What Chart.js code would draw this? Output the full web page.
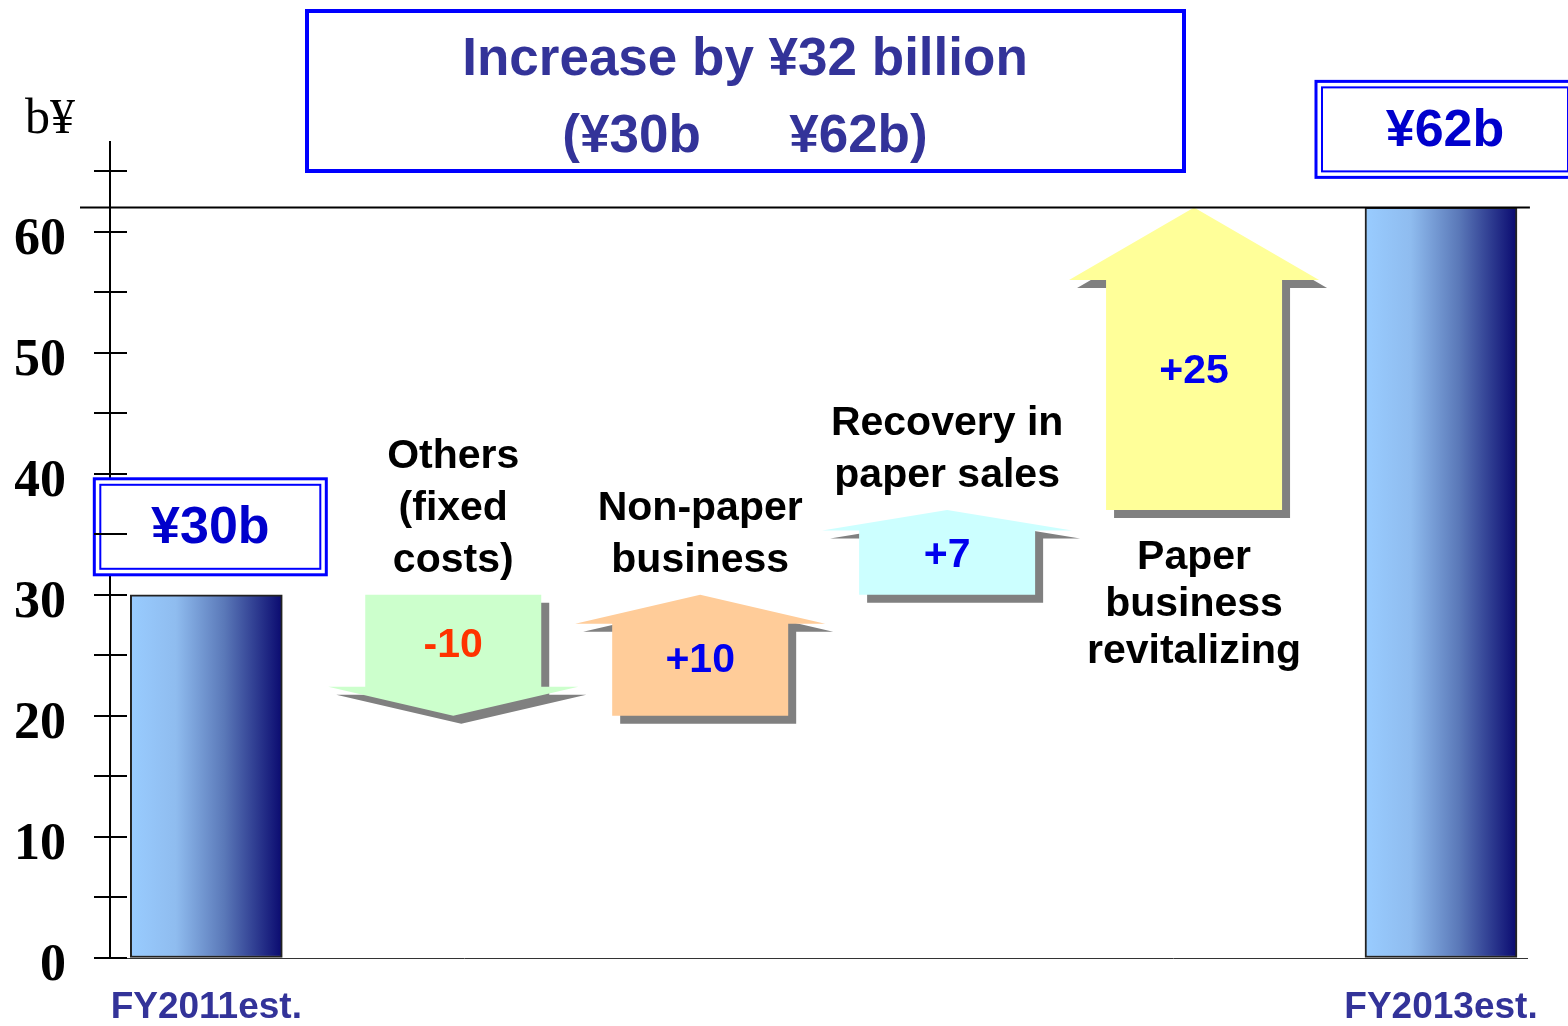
<!DOCTYPE html>
<html>
<head>
<meta charset="utf-8">
<script src="https://cdn.jsdelivr.net/npm/chart.js@4"></script>
<style>
  html, body { margin: 0; padding: 0; background: #fff; }
</style>
</head>
<body>
<canvas id="chart" width="1568" height="1026"></canvas>
<script>
// profit bridge FY2011est. -> FY2013est. (billion yen)

const categories = ['FY2011est.', 'Others (fixed costs)', 'Non-paper business',
    'Recovery in paper sales', 'Paper business revitalizing', 'FY2013est.'];
const startTotal = 30;
const endTotal = 62;
const changes = [-10, 10, 7, 25];
const changeLines = [
    ['Others', '(fixed', 'costs)'],
    ['Non-paper', 'business'],
    ['Recovery in', 'paper sales'],
    ['Paper', 'business', 'revitalizing']
];
const yTicks = [0, 5, 10, 15, 20, 25, 30, 35, 40, 45, 50, 55, 60, 65];

// colours
const ARROW_FILLS = ['#ccffcc', '#ffcc99', '#ccffff', '#ffff99'];
const SHADOW = '#808080';
const NAVY_TEXT = '#333399';
const BOX_BLUE = '#0000ff';
const SANS = '"Liberation Sans", Arial, sans-serif';
const SERIF = '"Liberation Serif", "Times New Roman", serif';

// running total gives the floating range of each step
const steps = [];
let running = startTotal;
for (let i = 0; i < changes.length; i++) {
    steps.push({ x: i + 1, y: [running, running + changes[i]] });
    running += changes[i];
}

function barGradient(context) {
    const chart = context.chart;
    if (!chart.chartArea || context.type !== 'data') return '#7fa8e0';
    const xPix = chart.scales.x.getPixelForValue(context.raw.x);
    const g = chart.ctx.createLinearGradient(xPix - 76, 0, xPix + 76, 0);
    g.addColorStop(0, '#99ccff');
    g.addColorStop(0.3, '#8fbcef');
    g.addColorStop(0.62, '#5a78b8');
    g.addColorStop(1, '#0a0a70');
    return g;
}

function fillPoly(c, pts, dx, dy) {
    c.beginPath();
    c.moveTo(pts[0][0] + dx, pts[0][1] + dy);
    for (let k = 1; k < pts.length; k++) c.lineTo(pts[k][0] + dx, pts[k][1] + dy);
    c.closePath();
    c.fill();
}

// draws the step arrows on top of the (invisible) floating bars
const arrowPlugin = {
    id: 'arrows',
    afterDatasetsDraw(chart) {
        const c = chart.ctx;
        const meta = chart.getDatasetMeta(1);
        meta.data.forEach(function(bar, i) {
            const cx = bar.x;
            const half = bar.width / 2;
            const top = Math.min(bar.y, bar.base);
            const bottom = Math.max(bar.y, bar.base);
            const head = (bottom - top) * 0.24;
            const ext = 37;
            const up = changes[i] > 0;
            let pts, textY;
            if (up) {
                const hb = top + head;
                pts = [[cx - half, bottom], [cx - half, hb], [cx - half - ext, hb], [cx, top],
                       [cx + half + ext, hb], [cx + half, hb], [cx + half, bottom]];
                textY = hb + (bottom - hb) * 0.4;
            } else {
                const hb = bottom - head;
                pts = [[cx - half, top], [cx + half, top], [cx + half, hb], [cx + half + ext, hb],
                       [cx, bottom], [cx - half - ext, hb], [cx - half, hb]];
                textY = top + (hb - top) * 0.55;
            }
            c.save();
            c.fillStyle = SHADOW;
            fillPoly(c, pts, 8, 8);
            c.fillStyle = ARROW_FILLS[i];
            fillPoly(c, pts, 0, 0);

            // the change value inside the arrow
            c.font = 'bold 41px ' + SANS;
            c.textAlign = 'center';
            c.textBaseline = 'middle';
            c.fillStyle = up ? '#0000ee' : '#ff3300';
            c.fillText((up ? '+' : '') + changes[i], cx, textY);

            // the description near the arrow
            c.fillStyle = '#000';
            const lines = changeLines[i];
            if (i === changes.length - 1) {
                for (let k = 0; k < lines.length; k++) {
                    c.fillText(lines[k], cx, bottom + 48 + k * 47);
                }
            } else {
                for (let k = 0; k < lines.length; k++) {
                    const fromEnd = lines.length - 1 - k;
                    c.fillText(lines[k], cx, top - 34 - fromEnd * 52);
                }
            }
            c.restore();
        });
    }
};

// title box, value boxes, 62 line and unit label
const notesPlugin = {
    id: 'notes',
    afterDraw(chart) {
        const c = chart.ctx;
        const area = chart.chartArea;
        const yScale = chart.scales.y;
        c.save();

        // line at the FY2013 level
        const yEnd = yScale.getPixelForValue(endTotal);
        c.strokeStyle = '#000';
        c.lineWidth = 2;
        c.beginPath();
        c.moveTo(area.left - 30, yEnd);
        c.lineTo(area.right + 2, yEnd);
        c.stroke();

        // unit label
        c.fillStyle = '#000';
        c.font = '50px ' + SERIF;
        c.textAlign = 'left';
        c.textBaseline = 'alphabetic';
        c.fillText('b\u00a5', 25, 133);

        // title box
        c.strokeStyle = BOX_BLUE;
        c.lineWidth = 4;
        c.strokeRect(307, 11, 877, 160);
        c.fillStyle = NAVY_TEXT;
        c.font = 'bold 53px ' + SANS;
        c.textAlign = 'center';
        c.textBaseline = 'middle';
        c.fillText('Increase by \u00a532 billion', 745, 60);
        c.fillText('(\u00a5' + startTotal + 'b      \u00a5' + endTotal + 'b)', 745, 137);

        // value boxes above the two totals
        const totals = [startTotal, endTotal];
        const widths = [232, 258];
        const gaps = [20, 30];
        const meta = chart.getDatasetMeta(0);
        meta.data.forEach(function(bar, i) {
            const w = widths[i];
            const h = 96;
            const x0 = bar.x - w / 2 + 4;
            const y0 = bar.y - gaps[i] - h;
            c.fillStyle = '#fff';
            c.fillRect(x0, y0, w, h);
            c.strokeStyle = BOX_BLUE;
            c.lineWidth = 3;
            c.strokeRect(x0, y0, w, h);
            c.lineWidth = 2;
            c.strokeRect(x0 + 6, y0 + 6, w - 12, h - 12);
            c.fillStyle = '#0000cc';
            c.font = 'bold 52px ' + SANS;
            c.fillText('\u00a5' + totals[i] + 'b', x0 + w / 2, y0 + h / 2 + 2);
        });

        // tick marks crossing the y axis
        c.strokeStyle = '#000';
        c.lineWidth = 2;
        yTicks.forEach(function(v) {
            const py = Math.round(yScale.getPixelForValue(v));
            c.beginPath();
            c.moveTo(area.left - 16, py);
            c.lineTo(area.left + 17, py);
            c.stroke();
        });
        c.restore();
    }
};

const ctx = document.getElementById('chart').getContext('2d');
new Chart(ctx, {
    type: 'bar',
    data: {
        datasets: [
            {
                label: 'Total',
                data: [{ x: 0, y: startTotal }, { x: 5, y: endTotal }],
                barThickness: 152,
                grouped: false,
                backgroundColor: barGradient,
                borderColor: '#222',
                borderWidth: 2,
                borderSkipped: false
            },
            {
                label: 'Change',
                data: steps,
                barThickness: 176,
                grouped: false,
                backgroundColor: 'rgba(0,0,0,0)',
                borderWidth: 0
            }
        ]
    },
    options: {
        responsive: false,
        animation: false,
        layout: { padding: { left: 15, top: 142, right: 38, bottom: 0 } },
        plugins: {
            legend: { display: false },
            tooltip: { enabled: false }
        },
        scales: {
            x: {
                type: 'linear',
                offset: false,
                bounds: 'data',
                min: -0.39,
                max: 5.352,
                grid: { display: false, drawTicks: false },
                border: { display: true, dash: [1, 2], color: '#333', width: 1 },
                afterBuildTicks: function(scale) {
                    scale.ticks = [{ value: 0 }, { value: 5 }];
                },
                ticks: {
                    autoSkip: false,
                    maxRotation: 0,
                    padding: 28,
                    color: NAVY_TEXT,
                    font: { family: SANS, weight: 'bold', size: 37 },
                    callback: function(value) { return categories[value]; }
                },
                afterFit: function(scale) { scale.height = 68; }
            },
            y: {
                min: 0,
                max: 67.4,
                // invisible tick length keeps the labels clear of the axis
                grid: {
                    display: true,
                    drawOnChartArea: false,
                    drawTicks: true,
                    tickLength: 40,
                    color: 'rgba(0,0,0,0)'
                },
                border: { display: true, color: '#000', width: 2 },
                afterBuildTicks: function(scale) {
                    scale.ticks = yTicks.map(function(v) { return { value: v }; });
                },
                ticks: {
                    autoSkip: false,
                    padding: 4,
                    labelOffset: 9,
                    color: '#000',
                    font: { family: SERIF, weight: 'bold', size: 52 },
                    callback: function(value) { return value % 10 === 0 ? value : ''; }
                },
                afterFit: function(scale) { scale.width = 95; }
            }
        }
    },
    plugins: [arrowPlugin, notesPlugin]
});
</script>
</body>
</html>
